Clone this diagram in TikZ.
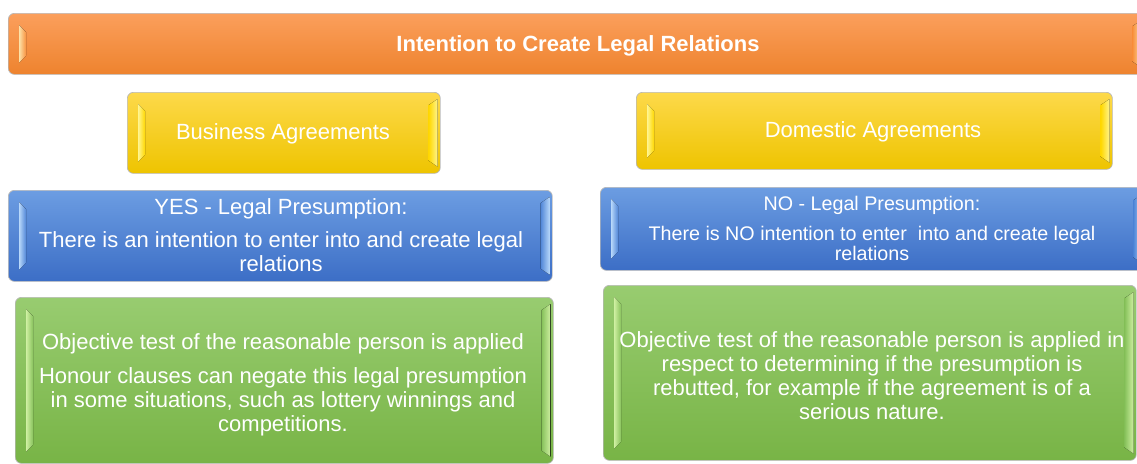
\documentclass[tikz,border=0pt]{standalone}
\usepackage{fontspec}
\setmainfont{Liberation Sans}
\usetikzlibrary{calc}
\definecolor{orT}{HTML}{FB9F5C}
\definecolor{orM}{HTML}{F8913F}
\definecolor{orB}{HTML}{EE832E}
\definecolor{orL}{HTML}{FCE2A8}
\definecolor{ylT}{HTML}{FDD94A}
\definecolor{ylM}{HTML}{FFD800}
\definecolor{ylB}{HTML}{EEC400}
\definecolor{ylL}{HTML}{FFF590}
\definecolor{blT}{HTML}{6C9DE2}
\definecolor{blM}{HTML}{5287D8}
\definecolor{blB}{HTML}{3C6EC6}
\definecolor{blL}{HTML}{B8D8FA}
\definecolor{gnT}{HTML}{98CC70}
\definecolor{gnM}{HTML}{88C25C}
\definecolor{gnB}{HTML}{78B446}
\definecolor{gnL}{HTML}{CFF0A2}
\tikzset{
  x=1pt, y=-1pt,
  box/.style={draw=black!28, line width=0.7pt, rounded corners=6pt, inner sep=0pt,
    text=white, align=center, anchor=north west},
  orbox/.style={box, top color=orT, middle color=orM, bottom color=orB},
  ylbox/.style={box, top color=ylT, middle color=ylM, bottom color=ylB},
  blbox/.style={box, top color=blT, middle color=blM, bottom color=blB},
  gnbox/.style={box, top color=gnT, middle color=gnM, bottom color=gnB},
  big/.style={font=\fontsize{22}{24}\selectfont},
  small/.style={font=\fontsize{19.7}{20}\selectfont},
}
% #1 node, #2 light colour, #3 box colour
\newcommand\bevelstrips[3]{%
  \fill[left color=#2, right color=#3]
    ($(#1.north west)+(11,12)$) -- ($(#1.north west)+(18,19)$) --
    ($(#1.south west)+(18,-19)$) -- ($(#1.south west)+(11,-12)$) -- cycle;
  \fill[right color=#2, left color=#3]
    ($(#1.north east)+(-3,7)$) -- ($(#1.north east)+(-12,13)$) --
    ($(#1.south east)+(-12,-13)$) -- ($(#1.south east)+(-3,-7)$) -- cycle;
}
\begin{document}
\begin{tikzpicture}
\useasboundingbox (0,0) rectangle (1137,463);
\clip (0,0) rectangle (1137,463);
% title
\node[orbox, minimum width=1136pt, minimum height=61pt] (title) at (8,13) {};
\bevelstrips{title}{orL}{orM}
\node[text=white, font=\fontsize{22}{24}\selectfont\bfseries] (titletext) at (578,46) {Intention to Create Legal Relations};
% yellow
\node[ylbox, minimum width=313pt, minimum height=81pt] (bus) at (127,92) {};
\bevelstrips{bus}{ylL}{ylM}
\node[text=white, big] (bustext) at (283,134) {Business Agreements};
\node[ylbox, minimum width=476pt, minimum height=77pt] (dom) at (636,92) {};
\bevelstrips{dom}{ylL}{ylM}
\node[text=white, big] (domtext) at (873,132) {Domestic Agreements};
% blue
\node[blbox, minimum width=544pt, minimum height=91pt] (yes) at (8,190) {};
\bevelstrips{yes}{blL}{blM}
\node[text=white, big, align=center] (yestext) at (281,235.5)
  {YES - Legal Presumption:\\[9pt]There is an intention to enter into and create legal\\relations};
\node[blbox, minimum width=545pt, minimum height=83pt] (no) at (600,187) {};
\bevelstrips{no}{blL}{blM}
\node[text=white, small, align=center] (notext) at (872,228)
  {NO - Legal Presumption:\\[10pt]There is NO intention to enter\ \ into and create legal\\relations};
% green
\node[gnbox, minimum width=538pt, minimum height=166pt] (gl) at (15,297) {};
\bevelstrips{gl}{gnL}{gnM}
\node[text=white, big, align=center] (gltext) at (283,384.5)
  {Objective test of the reasonable person is applied\\[10pt]Honour clauses can negate this legal presumption\\in some situations, such as lottery winnings and\\competitions.};
\node[gnbox, minimum width=533pt, minimum height=175pt] (gr) at (603,285) {};
\bevelstrips{gr}{gnL}{gnM}
\node[text=white, big, align=center] (grtext) at (872,375.5)
  {Objective test of the reasonable person is applied in\\respect to determining if the presumption is\\rebutted, for example if the agreement is of a\\serious nature.};
\end{tikzpicture}
\end{document}
